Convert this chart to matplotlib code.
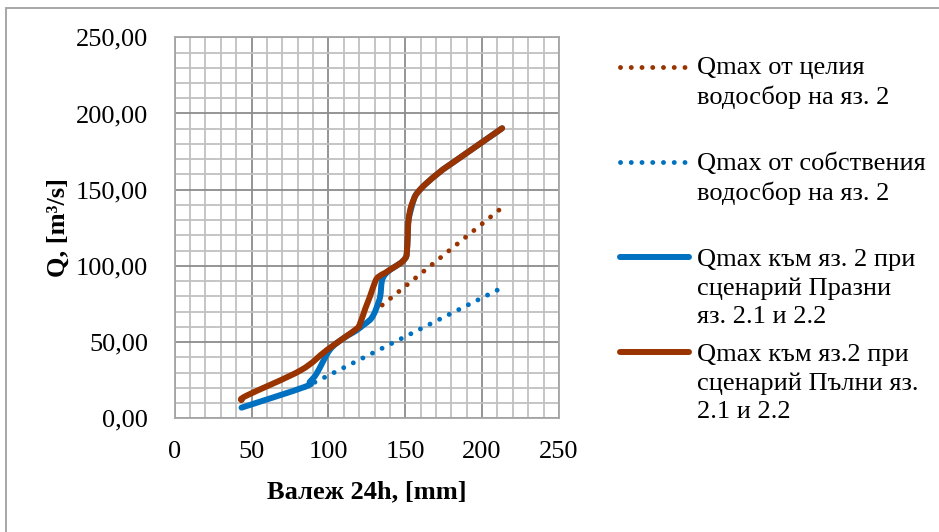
import matplotlib
matplotlib.use("Agg")
import matplotlib.pyplot as plt
from matplotlib.path import Path
from matplotlib.patches import PathPatch, Rectangle
from matplotlib.lines import Line2D
from matplotlib.ticker import MultipleLocator, FuncFormatter

plt.rcParams["font.family"] = ["Liberation Serif", "DejaVu Serif"]

# Qmax from the whole catchment of reservoir 2
whole_x = [135.0, 213.0]
whole_q = [74.3, 138.3]

# Qmax from the own catchment of reservoir 2
own_x = [85.0, 213.0]
own_q = [20.5, 85.7]

# Qmax towards reservoir 2, scenario with empty reservoirs 2.1 and 2.2
empty_x = [43.5, 84.8, 88.0, 92.4, 101.0, 109.8, 118.0, 122.8, 127.0, 129.3,
           131.5, 133.7, 134.8, 137.0, 141.0, 146.7, 150.0, 151.0, 151.6,
           152.1, 155.5, 157.6, 163.0, 172.7, 180.3, 213.0]
empty_q = [7.0, 20.7, 24.0, 29.5, 45.0, 52.5, 57.5, 61.2, 64.5, 67.8,
           73.0, 80.0, 90.0, 94.5, 98.0, 101.7, 105.0, 108.3, 120.0,
           130.0, 143.5, 147.6, 153.5, 161.8, 167.3, 190.3]

# Qmax towards reservoir 2, scenario with full reservoirs 2.1 and 2.2
full_x = [43.5, 47.0, 82.0, 99.0, 118.0, 120.6, 124.0, 127.0, 130.4, 132.6,
          137.0, 140.0, 146.7, 150.0, 151.0, 151.6, 152.1, 153.5, 155.5,
          157.6, 163.0, 172.7, 180.3, 213.0]
full_q = [12.0, 15.0, 31.5, 44.8, 58.5, 62.3, 72.0, 79.8, 89.6, 92.9,
          95.5, 97.5, 101.7, 105.0, 108.3, 120.0, 130.0, 138.0, 143.5,
          147.6, 153.5, 161.8, 167.3, 190.3]

labels = [
    "Qmax от целия\nводосбор на яз. 2",
    "Qmax от собствения\nводосбор на яз. 2",
    "Qmax към яз. 2 при\nсценарий Празни\nяз. 2.1 и 2.2",
    "Qmax към яз.2 при\nсценарий Пълни яз.\n2.1 и 2.2",
]

BROWN = "#993300"
BLUE = "#0070C0"
FS = 19


def smooth_path(xs, ys, t=1.0 / 6.0):
    """Bezier path through the points, like a spreadsheet 'smoothed line'."""
    pts = list(zip(xs, ys))
    n = len(pts)
    verts = [pts[0]]
    codes = [Path.MOVETO]
    for i in range(n - 1):
        p0 = pts[i - 1] if i > 0 else pts[i]
        p1 = pts[i]
        p2 = pts[i + 1]
        p3 = pts[i + 2] if i + 2 < n else pts[i + 1]
        c1 = (p1[0] + (p2[0] - p0[0]) * t, p1[1] + (p2[1] - p0[1]) * t)
        c2 = (p2[0] - (p3[0] - p1[0]) * t, p2[1] - (p3[1] - p1[1]) * t)
        verts += [c1, c2, p2]
        codes += [Path.CURVE4] * 3
    return Path(verts, codes)


fig = plt.figure(figsize=(9.39, 5.32), dpi=100)
ax = fig.add_axes([0.186, 0.2137, 0.4093, 0.7162])

ax.set_xlim(0, 250)
ax.set_ylim(0, 250)
ax.xaxis.set_major_locator(MultipleLocator(50))
ax.yaxis.set_major_locator(MultipleLocator(50))
ax.xaxis.set_minor_locator(MultipleLocator(10))
ax.yaxis.set_minor_locator(MultipleLocator(10))
ax.grid(which="minor", color="#C0C0C0", linewidth=1.3)
ax.grid(which="major", color="#8C8C8C", linewidth=1.3)
ax.set_axisbelow(True)
ax.tick_params(which="both", length=0, labelsize=FS)
ax.tick_params(axis="x", pad=16)
ax.tick_params(axis="y", pad=19)
ax.yaxis.set_major_formatter(FuncFormatter(lambda v, _: f"{v:.2f}".replace(".", ",")))
for sp in ax.spines.values():
    sp.set_color("#A6A6A6")
    sp.set_linewidth(1.3)

dot_style = dict(linestyle=(0, (0.01, 2.2)), linewidth=3.5,
                 dash_capstyle="round", solid_capstyle="round")
ax.plot(whole_x, whole_q, color=BROWN, **dot_style)
ax.plot(own_x, own_q, color=BLUE, **dot_style)

for xs, ys, col in [(empty_x, empty_q, BLUE), (full_x, full_q, BROWN)]:
    ax.add_patch(PathPatch(smooth_path(xs, ys), fill=False, edgecolor=col,
                           linewidth=4.3, capstyle="round", joinstyle="round"))

ax.set_xlabel("Валеж 24h, [mm]", fontsize=FS, fontweight="bold")
ax.set_ylabel("Q, [m³/s]", fontsize=FS, fontweight="bold")
ax.xaxis.set_label_coords(0.5, -0.163)
ax.yaxis.set_label_coords(-0.272, 0.5)

# legend drawn in figure pixels, handle aligned with the first text line
W, H = 939.0, 532.0
handle_rows = [67, 162, 257, 352]
text_tops = [57, 152, 249, 344]
styles = [(BROWN, dot_style), (BLUE, dot_style),
          (BLUE, dict(linewidth=4.3, solid_capstyle="round")),
          (BROWN, dict(linewidth=4.3, solid_capstyle="round"))]
for row, top, lab, (col, st) in zip(handle_rows, text_tops, labels, styles):
    fig.add_artist(Line2D([620 / W, 689 / W], [1 - row / H, 1 - row / H],
                          color=col, **st))
    fig.text(697 / W, 1 - top / H, lab, fontsize=FS, ha="left",
             va="top", linespacing=1.36)

# chart border
fig.add_artist(Rectangle((6 / W, -0.1), 1.2, 1 - 8 / H + 0.1, fill=False,
                         edgecolor="#A0A0A0", linewidth=1.3))

fig.savefig("out.png", dpi=100)
